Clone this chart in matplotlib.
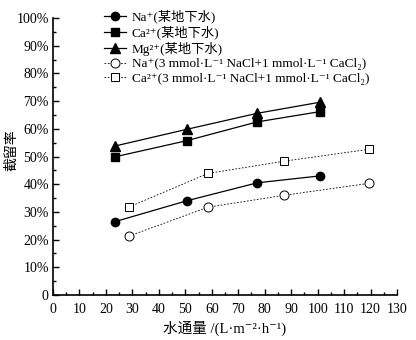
import matplotlib
matplotlib.use("Agg")
import matplotlib.pyplot as plt
from matplotlib.ticker import MultipleLocator, FuncFormatter

plt.rcParams['font.family'] = ['Liberation Serif', 'Noto Sans CJK SC', 'DejaVu Serif']

# Data (water flux in L·m^-2·h^-1, rejection in %)
x_ground = [23.5, 50.5, 77.2, 100.9]
na_ground = [26.5, 34.0, 40.5, 43.0]
ca_ground = [49.9, 55.7, 62.5, 66.2]
mg_ground = [53.8, 59.8, 65.6, 69.6]

x_synth = [28.8, 58.6, 87.3, 119.4]
na_synth = [21.3, 31.7, 36.0, 40.3]
ca_synth = [31.8, 43.9, 48.3, 52.6]

labels = [
    'Na\u207a(某地下水)',
    'Ca\u00b2\u207a(某地下水)',
    'Mg\u00b2\u207a(某地下水)',
    'Na\u207a(3 mmol·L\u207b\u00b9 NaCl+1 mmol·L\u207b\u00b9 CaCl\u2082)',
    'Ca\u00b2\u207a(3 mmol·L\u207b\u00b9 NaCl+1 mmol·L\u207b\u00b9 CaCl\u2082)',
]
xlabel = '水通量 /(L·m\u207b\u00b2·h\u207b\u00b9)'
ylabel = '截留率'

fig = plt.figure(figsize=(4.16, 3.40), dpi=100)
ax = fig.add_axes([53/416, 45/340, 344/416, 277/340])

lw = 0.9
ms = 6
ax.plot(x_ground, na_ground, '-', color='black', lw=lw, marker='o', ms=ms, label=labels[0])
ax.plot(x_ground, ca_ground, '-', color='black', lw=lw, marker='s', ms=ms-0.5, label=labels[1])
ax.plot(x_ground, mg_ground, '-', color='black', lw=lw, marker='^', ms=ms+0.5, label=labels[2])
ax.plot(x_synth, na_synth, color='black', lw=0.6, ls=(0, (2, 2)), marker='o', ms=ms+0.5,
        mfc='white', mec='black', mew=0.7, label=labels[3])
ax.plot(x_synth, ca_synth, color='black', lw=0.6, ls=(0, (2, 2)), marker='s', ms=ms,
        mfc='white', mec='black', mew=0.7, label=labels[4])

ax.set_xlim(0, 130)
ax.set_ylim(0, 100)
ax.xaxis.set_major_locator(MultipleLocator(10))
ax.xaxis.set_minor_locator(MultipleLocator(5))
ax.yaxis.set_major_locator(MultipleLocator(10))
ax.yaxis.set_minor_locator(MultipleLocator(5))
ax.yaxis.set_major_formatter(FuncFormatter(lambda v, p: '0' if v == 0 else f'{int(round(v))}%'))

for s in ['top', 'right']:
    ax.spines[s].set_visible(False)
for s in ['left', 'bottom']:
    ax.spines[s].set_linewidth(1.2)

ax.tick_params(which='both', direction='in', width=1.0, labelsize=10)
ax.tick_params(which='major', length=4)
ax.tick_params(which='minor', length=2.5)
ax.tick_params(axis='x', pad=6)
ax.tick_params(axis='y', pad=3)

ax.set_xlabel(xlabel, fontsize=10.5, labelpad=3)
fig.text(12/416, 1 - 150/340, ylabel, rotation=90, ha='center', va='center', fontsize=10)

leg = ax.legend(loc='upper left', bbox_to_anchor=(104/416, 1 - 10/340), bbox_transform=fig.transFigure,
                frameon=False, fontsize=9.5, handlelength=1.7, handletextpad=0.4,
                labelspacing=0.17, borderpad=0, borderaxespad=0)

fig.savefig('out.png', dpi=100)
